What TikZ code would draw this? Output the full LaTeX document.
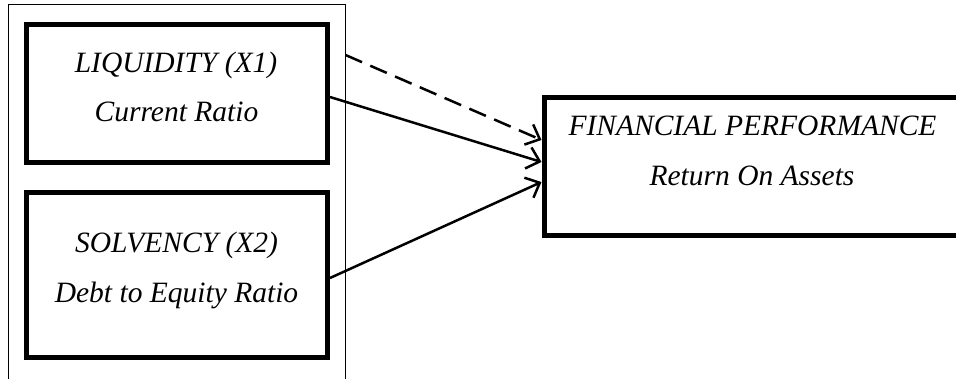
\documentclass[tikz,border=0pt]{standalone}
\usepackage{fontspec}
\setmainfont{Liberation Serif}
\usetikzlibrary{arrows.meta}
\begin{document}
\begin{tikzpicture}[x=1pt,y=-1pt,
  box/.style={draw,line width=5pt,inner sep=0pt},
  txt/.style={font=\itshape\fontsize{29.5}{34}\selectfont,anchor=base,inner sep=0pt},
  conn/.style={line width=2.5pt,-{Straight Barb[length=12pt,width=22pt]}},
  frame/.style={line width=1.6pt}]
\useasboundingbox (0,0) rectangle (956,378);
% outer frame (open at the bottom)
\draw[frame] (8.5,400) -- (8.5,4.5) -- (345.5,4.5) -- (345.5,400);
\coordinate (ds) at (345.5,55);
% boxes
\node[box,minimum width=301pt,minimum height=138pt] (liq) at (177,93.5) {};
\node[box,minimum width=301pt,minimum height=165pt] (sol) at (177,275) {};
\node[box,minimum width=416pt,minimum height=138pt] (fin) at (752,166.5) {};
% texts
\node[txt] (liq1) at (176,72) {LIQUIDITY (X1)};
\node[txt] (liq2) at (176.5,121) {Current Ratio};
\node[txt] (sol1) at (176.5,252) {SOLVENCY (X2)};
\node[txt] (sol2) at (176.5,302) {Debt to Equity Ratio};
\node[txt] (fin1) at (752.5,135) {FINANCIAL PERFORMANCE};
\node[txt] (fin2) at (752,185) {Return On Assets};
% connectors
\draw[conn,dash pattern=on 18pt off 9pt] (ds) -- ([yshift=26.5pt]fin.west);
\draw[conn] ([yshift=-3.5pt]liq.east) -- ([yshift=4.5pt]fin.west);
\draw[conn] ([yshift=-3pt]sol.east) -- ([yshift=-15.5pt]fin.west);
\end{tikzpicture}
\end{document}
